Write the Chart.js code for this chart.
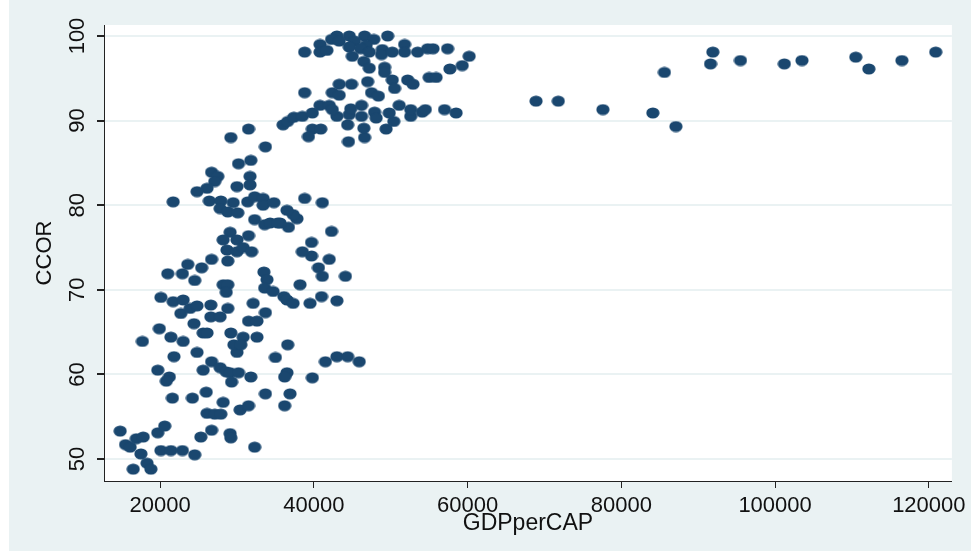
<!DOCTYPE html>
<html>
<head>
<meta charset="utf-8">
<script src="https://cdn.jsdelivr.net/npm/chart.js@4.4.1/dist/chart.umd.min.js"></script>
<style>
  html, body { margin: 0; padding: 0; background: #eaf2f3; }
  #wrap { width: 971px; height: 551px; }
</style>
</head>
<body>
<div id="wrap"><canvas id="scatterChart" width="971" height="551"></canvas></div>
<script>
// GDP per capita (x) and CCOR (y)
const gdpPerCap = [
    14800, 15500, 16100, 16900, 17800, 17500, 16500, 18300, 18800, 19700,
    20600, 20100, 21400, 22900, 24500, 25300, 26700, 29100, 29200, 32300,
    26100, 27100, 27900, 30400, 31500, 21600, 24200, 26000, 28200, 33700,
    36900, 36200, 19700, 21200, 20800, 25600, 26700, 27800, 28600, 29100,
    30200, 29300, 31800, 36500, 36200, 39800, 41500, 43000, 44400, 45900,
    21800, 24800, 30000, 35000, 19900, 21400, 23000, 17700, 24400, 25600,
    26100, 29200, 30800, 32600, 29600, 30500, 36600, 26600, 28800, 32100,
    22700, 23900, 24800, 21700, 23000, 20100, 26600, 27800, 31500, 32600,
    33700, 36100, 36500, 37300, 39500, 41000, 43000, 33500, 33900, 33600,
    34700, 26700, 28800, 23600, 25400, 21000, 22900, 24500, 28200, 28800,
    28600, 38200, 40600, 41100, 44100, 42000, 39700, 38500, 39700, 29100,
    28200, 30000, 31500, 28700, 30000, 30800, 31900, 42300, 36700, 35600,
    37800, 37300, 36500, 32300, 33600, 34300, 35300, 21700, 26400, 27900,
    29500, 27800, 28800, 30100, 31400, 32300, 33400, 33400, 34800, 38800,
    41100, 26700, 27500, 27100, 31700, 31700, 30000, 26100, 24800, 30200,
    31800, 29200, 31500, 33700, 36000, 36600, 37400, 38500, 39800, 39800,
    40900, 39300, 44500, 46600, 44400, 46500, 49400, 50400, 43000, 44600,
    46200, 47900, 48100, 49800, 52600, 52600, 51100, 54100, 54500, 57000,
    58500, 40800, 42000, 42400, 44800, 46200, 38800, 42400, 43300, 43300,
    44900, 47000, 47500, 48400, 50200, 50500, 52200, 52900, 55000, 55900,
    43000, 44600, 46600, 49600, 42300, 43300, 45300, 47800, 40800, 51800,
    46800, 38800, 40800, 41700, 44600, 46100, 47200, 48900, 48800, 50200,
    51800, 53500, 54800, 55500, 57400, 60200, 59300, 57700, 45000, 46500,
    47200, 49200, 49200, 68900, 71800, 77600, 84100, 85600, 87100, 91600,
    91900, 95500, 101200, 103500, 110500, 112200, 116500, 120900
];
const ccor = [
    53.3, 51.7, 51.4, 52.4, 52.6, 50.6, 48.8, 49.5, 48.8, 53.1,
    53.9, 51.0, 51.0, 51.0, 50.5, 52.6, 53.4, 53.0, 52.5, 51.4,
    55.4, 55.3, 55.3, 55.8, 56.3, 57.2, 57.2, 57.9, 56.7, 57.7,
    57.7, 56.3, 60.5, 59.7, 59.2, 60.5, 61.5, 60.8, 60.3, 60.2,
    60.2, 59.1, 59.7, 60.2, 59.7, 59.6, 61.5, 62.1, 62.1, 61.5,
    62.1, 62.6, 62.6, 62.0, 65.4, 64.4, 63.9, 63.9, 66.0, 64.9,
    64.9, 64.9, 64.4, 64.4, 63.5, 63.5, 63.5, 68.2, 67.8, 68.4,
    67.2, 67.8, 68.1, 68.6, 68.8, 69.1, 66.8, 66.8, 66.3, 66.3,
    67.3, 69.2, 68.8, 68.4, 68.4, 69.2, 68.7, 72.1, 71.2, 70.2,
    69.8, 73.6, 73.4, 73.0, 72.6, 71.9, 71.9, 71.1, 70.6, 70.6,
    69.7, 70.6, 72.6, 71.6, 71.6, 73.6, 74.0, 74.5, 75.6, 76.8,
    75.9, 75.9, 76.4, 74.7, 74.5, 75.0, 74.5, 76.9, 77.4, 77.9,
    78.4, 78.9, 79.4, 78.3, 77.7, 77.9, 77.9, 80.4, 80.5, 80.5,
    80.3, 79.6, 79.2, 79.1, 80.4, 81.0, 80.8, 80.0, 80.3, 80.8,
    80.3, 83.9, 83.4, 82.8, 83.4, 82.4, 82.2, 82.0, 81.6, 84.9,
    85.3, 88.0, 89.0, 86.9, 89.5, 89.9, 90.4, 90.5, 90.9, 89.0,
    89.0, 88.1, 87.5, 88.0, 89.5, 89.1, 89.0, 89.9, 90.5, 90.7,
    90.5, 91.0, 90.3, 90.9, 90.5, 91.3, 91.8, 91.0, 91.3, 91.3,
    90.9, 91.8, 91.8, 91.3, 91.4, 91.8, 93.3, 93.3, 93.0, 94.3,
    94.3, 94.6, 93.3, 92.9, 94.8, 93.8, 94.8, 94.3, 95.1, 95.1,
    100.0, 100.0, 100.0, 100.0, 99.6, 99.4, 99.4, 99.6, 99.0, 99.0,
    98.9, 98.1, 98.1, 98.3, 98.7, 98.5, 98.1, 98.4, 97.8, 98.1,
    98.1, 98.1, 98.5, 98.5, 98.5, 97.6, 96.5, 96.1, 97.6, 97.0,
    96.2, 96.3, 95.7, 92.3, 92.3, 91.3, 90.9, 95.7, 89.3, 96.7,
    98.1, 97.1, 96.7, 97.1, 97.5, 96.1, 97.1, 98.1
];
const xTicks = [20000, 40000, 60000, 80000, 100000, 120000];
const yTicks = [50, 60, 70, 80, 90, 100];

const FONT = '"Liberation Sans", Arial, sans-serif';
Chart.defaults.font.family = FONT;

// Stata-like oval marker
const dot = document.createElement('canvas');
dot.width = 14;
dot.height = 12;
const dctx = dot.getContext('2d');
dctx.fillStyle = '#1a476f';
dctx.beginPath();
dctx.ellipse(7, 6, 6.6, 5.5, 0, 0, Math.PI * 2);
dctx.fill();

// Bluish graph region with a white plot region
const plotBackground = {
    id: 'plotBackground',
    beforeDraw(chart) {
        const {ctx, chartArea: a, width, height} = chart;
        ctx.save();
        ctx.fillStyle = '#ffffff';
        ctx.fillRect(0, 0, width, height);
        ctx.fillStyle = '#eaf2f3';
        ctx.fillRect(9, 0, width - 9, height);
        ctx.fillStyle = '#ffffff';
        ctx.fillRect(a.left, a.top, a.right - a.left, a.bottom - a.top);
        ctx.restore();
    }
};

// Vertical (rotated) y tick labels
const yTickLabels = {
    id: 'yTickLabels',
    afterDraw(chart) {
        const scale = chart.scales.y;
        const ctx = chart.ctx;
        ctx.save();
        ctx.font = '22px ' + FONT;
        ctx.fillStyle = '#111111';
        ctx.textAlign = 'center';
        ctx.textBaseline = 'alphabetic';
        scale.ticks.forEach(function(t) {
            const y = scale.getPixelForValue(t.value);
            ctx.save();
            ctx.translate(scale.right - 20, y);
            ctx.rotate(-Math.PI / 2);
            ctx.fillText(String(t.value), 0, 0);
            ctx.restore();
        });
        ctx.restore();
    }
};

const points = gdpPerCap.map(function(x, i) { return {x: x, y: ccor[i]}; });

new Chart(document.getElementById('scatterChart'), {
    type: 'scatter',
    data: {
        datasets: [{
            data: points,
            pointStyle: dot,
            backgroundColor: '#1a476f',
            borderWidth: 0
        }]
    },
    options: {
        responsive: false,
        animation: false,
        layout: {
            padding: { top: 25, right: 17, bottom: 0, left: 0 }
        },
        plugins: {
            legend: { display: false },
            tooltip: { enabled: false }
        },
        scales: {
            x: {
                type: 'linear',
                min: 12700,
                max: 123000,
                afterFit: function(s) { s.height = 70; },
                afterBuildTicks: function(s) {
                    s.ticks = xTicks.map(function(v) { return {value: v}; });
                },
                grid: {
                    drawOnChartArea: false,
                    drawTicks: true,
                    tickLength: 7,
                    tickColor: '#222222',
                    lineWidth: 1
                },
                border: { display: true, color: '#222222', width: 1 },
                ticks: {
                    color: '#111111',
                    font: { size: 22 },
                    padding: 5,
                    maxRotation: 0,
                    autoSkip: false,
                    callback: function(value) { return String(value); }
                },
                title: {
                    display: true,
                    text: 'GDPperCAP',
                    color: '#111111',
                    font: { size: 23 },
                    padding: { top: 0, bottom: 14 }
                }
            },
            y: {
                min: 47.4,
                max: 101.3,
                afterFit: function(s) { s.width = 104; },
                afterBuildTicks: function(s) {
                    s.ticks = yTicks.map(function(v) { return {value: v}; });
                },
                grid: {
                    color: '#eaf2f3',
                    lineWidth: 2,
                    drawTicks: true,
                    tickLength: 7,
                    tickColor: '#222222'
                },
                border: { display: true, color: '#222222', width: 1 },
                ticks: { display: false },
                title: {
                    display: true,
                    text: 'CCOR',
                    color: '#111111',
                    font: { size: 22 },
                    padding: { top: 32, bottom: 0 }
                }
            }
        }
    },
    plugins: [plotBackground, yTickLabels]
});
</script>
</body>
</html>
